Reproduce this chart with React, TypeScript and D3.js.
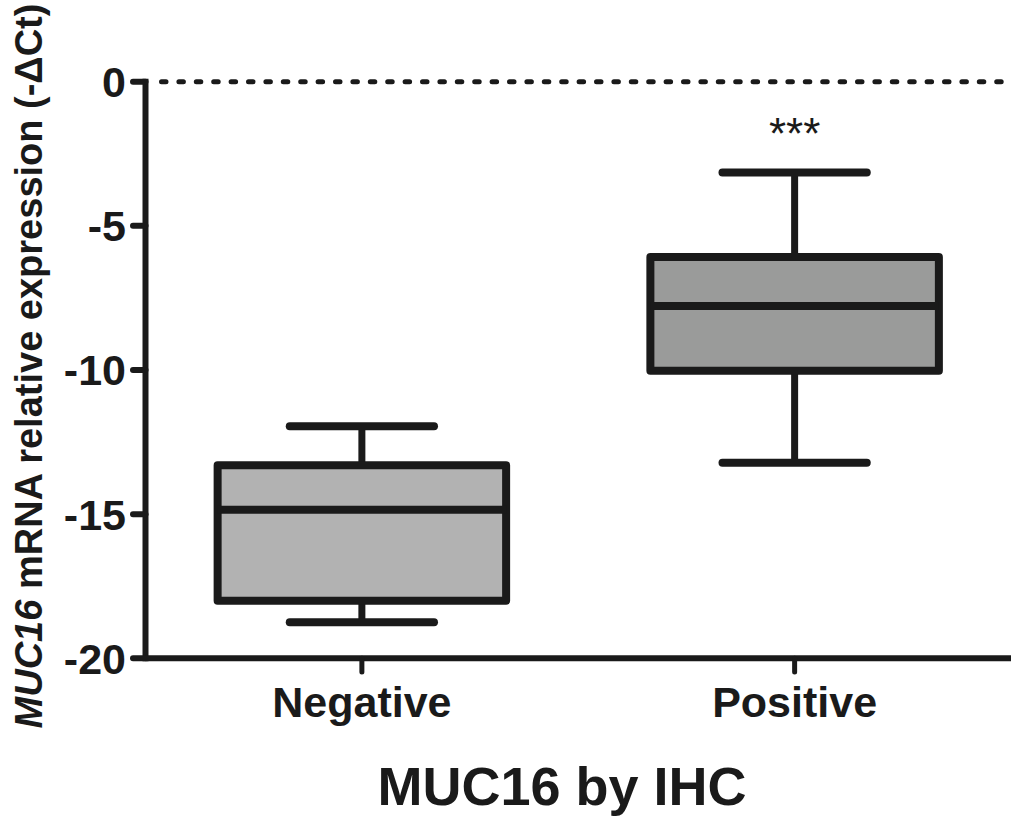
import React from 'react'
import * as d3 from 'd3'

// box plot values (-ΔCt)
const categories = ['Negative', 'Positive']
const whiskerLow = [-18.75, -13.22]
const q1 = [-18.0, -10.03]
const medians = [-14.85, -7.78]
const q3 = [-13.3, -6.08]
const whiskerHigh = [-11.95, -3.15]
const yTicks = [0, -5, -10, -15, -20]
const significance = ['', '***']

const boxFills = ['#b2b2b2', '#9a9b9a']
const ink = '#1a1a1a'
const font = '"Liberation Sans", Arial, sans-serif'

export default function App() {
  const width = 1011
  const height = 821
  const margin = { top: 81.7, right: 0, bottom: 162.7, left: 145.5 }

  const y = d3.scaleLinear()
    .domain([-20, 0])
    .range([height - margin.bottom, margin.top])

  const x = d3.scaleBand()
    .domain(categories)
    .range([margin.left, width - margin.right])
    .padding(0)

  const bw = x.bandwidth()
  const boxHalf = bw / 3
  const capHalf = bw / 6
  const x0 = margin.left
  const yBase = y(-20)

  return (
    <svg width={width} height={height} style={{ position: 'absolute', left: 0, top: 0, background: '#fff' }}>
      {/* zero reference line */}
      <line x1={x0 + 16} x2={width} y1={y(0)} y2={y(0)}
        stroke={ink} strokeWidth={5} strokeDasharray="4.5 12.9" strokeLinecap="round" />

      {/* boxes */}
      {categories.map((c, i) => {
        const cx = x(c)! + bw / 2
        return (
          <g key={c}>
            <line x1={cx} x2={cx} y1={y(whiskerHigh[i])} y2={y(q3[i])} stroke={ink} strokeWidth={7} />
            <line x1={cx} x2={cx} y1={y(q1[i])} y2={y(whiskerLow[i])} stroke={ink} strokeWidth={7} />
            <line x1={cx - capHalf} x2={cx + capHalf} y1={y(whiskerHigh[i])} y2={y(whiskerHigh[i])}
              stroke={ink} strokeWidth={8} strokeLinecap="round" />
            <line x1={cx - capHalf} x2={cx + capHalf} y1={y(whiskerLow[i])} y2={y(whiskerLow[i])}
              stroke={ink} strokeWidth={8} strokeLinecap="round" />
            <rect x={cx - boxHalf} width={boxHalf * 2} y={y(q3[i])} height={y(q1[i]) - y(q3[i])}
              fill={boxFills[i]} stroke={ink} strokeWidth={8} strokeLinejoin="round" />
            <line x1={cx - boxHalf} x2={cx + boxHalf} y1={y(medians[i])} y2={y(medians[i])}
              stroke={ink} strokeWidth={8} />
            {significance[i] && (
              <text x={cx} y={149} textAnchor="middle" fontFamily={font} fontSize={44} fill={ink}>
                {significance[i]}
              </text>
            )}
          </g>
        )
      })}

      {/* y axis */}
      <line x1={x0} x2={x0} y1={y(0) - 3} y2={yBase + 3} stroke={ink} strokeWidth={6} />
      {yTicks.map(t => (
        <g key={t}>
          <line x1={133} x2={x0} y1={y(t)} y2={y(t)} stroke={ink} strokeWidth={6} strokeLinecap="round" />
          <text x={126} y={y(t)} dy="0.36em" textAnchor="end" fontFamily={font} fontWeight="bold"
            fontSize={43} fill={ink}>{t}</text>
        </g>
      ))}

      {/* x axis */}
      <line x1={x0} x2={width} y1={yBase} y2={yBase} stroke={ink} strokeWidth={6} />
      {categories.map(c => {
        const cx = x(c)! + bw / 2
        return (
          <g key={c}>
            <line x1={cx} x2={cx} y1={yBase} y2={672} stroke={ink} strokeWidth={5} strokeLinecap="round" />
            <text x={cx} y={717} textAnchor="middle" fontFamily={font} fontWeight="bold"
              fontSize={43} fill={ink}>{c}</text>
          </g>
        )
      })}

      <text x={562} y={805} textAnchor="middle" fontFamily={font} fontWeight="bold" fontSize={54} fill={ink}>
        MUC16 by IHC
      </text>

      <text transform="translate(42,366) rotate(-90)" textAnchor="middle" fontFamily={font}
        fontWeight="bold" fontSize={38} fill={ink}>
        <tspan fontStyle="italic">MUC16</tspan> mRNA relative expression (-ΔCt)
      </text>
    </svg>
  )
}
